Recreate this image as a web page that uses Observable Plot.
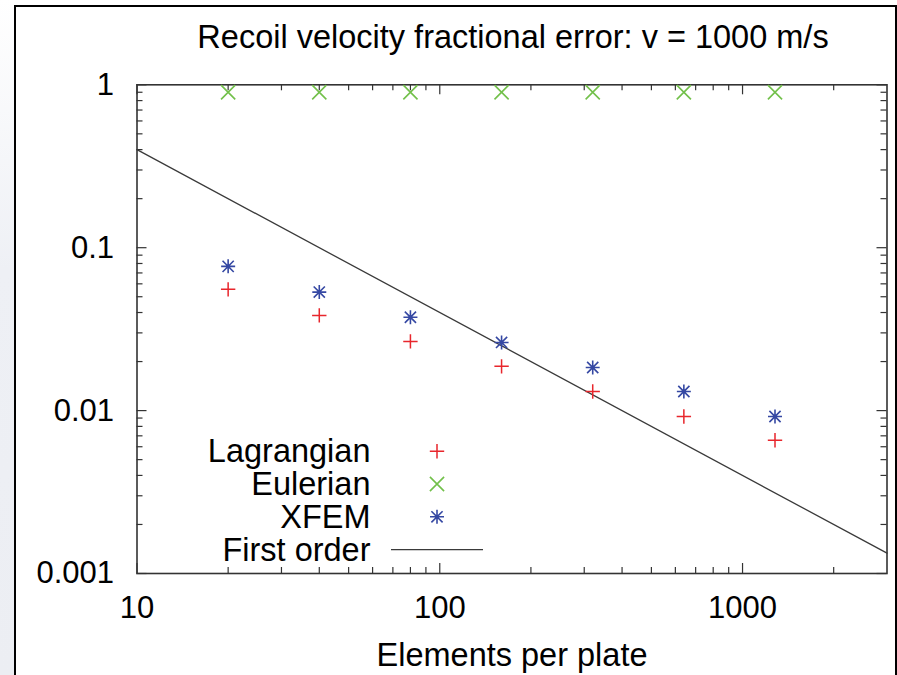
<!DOCTYPE html>
<html>
<head>
<meta charset="utf-8">
<script src="https://cdn.jsdelivr.net/npm/d3@7"></script>
<script src="https://cdn.jsdelivr.net/npm/@observablehq/plot@0.6"></script>
<style>
  html, body { margin: 0; padding: 0; background: #fff; }
  #page { position: relative; width: 897px; height: 675px; overflow: hidden; background: #fff; }
  #strip { position: absolute; left: 0; top: 0; width: 14px; height: 675px;
           background: linear-gradient(to bottom, #ffffff 0%, #eef0f5 40%, #eceef3 100%); }
  #border { position: absolute; left: 14px; top: 5px; width: 879px; height: 700px;
            border-left: 2.5px solid #000; border-top: 2px solid #000; border-right: 2px solid #000; }
  #chart { position: absolute; left: 0; top: 0; }
  #chart svg { font-family: "Liberation Sans", Arial, sans-serif; }
</style>
</head>
<body>
<div id="page">
  <div id="strip"></div>
  <div id="border"></div>
  <div id="chart"></div>
</div>
<script>
// ---- data ----
const elements = [20, 40, 80, 160, 320, 640, 1280];
const lagrangian = [0.0555, 0.0384, 0.0266, 0.0187, 0.0131, 0.0092, 0.00658];
const eulerian   = [0.90, 0.90, 0.90, 0.90, 0.90, 0.90, 0.90];
const xfem       = [0.0768, 0.0534, 0.0374, 0.0262, 0.0184, 0.0131, 0.0092];
const firstOrderX = [10, 3000];
const firstOrderY = [0.4, 0.001333];

const xTicks = [10, 100, 1000];
const xTickLabels = ["10", "100", "1000"];
const yTicks = [1, 0.1, 0.01, 0.001];
const yTickLabels = ["1", "0.1", "0.01", "0.001"];
const xMinor = [20, 30, 40, 50, 60, 70, 80, 90, 200, 300, 400, 500, 600, 700, 800, 900, 2000];
const yMinor = [];
[0.001, 0.01, 0.1].forEach(d => { for (let k = 2; k <= 9; k++) yMinor.push(+(d * k).toPrecision(3)); });

const legendLabels = ["Lagrangian", "Eulerian", "XFEM", "First order"];
const title = "Recoil velocity fractional error: v = 1000 m/s";
const xLabel = "Elements per plate";

// ---- styling ----
const red = "#e8262c", green = "#72c04a", blue = "#3548a3", lineColor = "#3a3a3a";
const W = 897, H = 675;
const mL = 136.5, mR = 10.5, mT = 84.3, mB = 102;
const plotH = H - mT - mB, plotW = W - mL - mR;
const FS = 32.5, TFS = 31;
const majorLen = 10, minorLen = 6;

const series = elements.map((x, i) => ({x, lag: lagrangian[i], eul: eulerian[i], xf: xfem[i]}));
const firstOrder = firstOrderX.map((x, i) => ({x, y: firstOrderY[i]}));

// gnuplot-style symbols
const lineSymbol = { draw(ctx) { ctx.moveTo(-46, 0); ctx.lineTo(46, 0); } };
const starSymbol = { draw(ctx) {
  const h = 7, d = 5.6;
  ctx.moveTo(-h, 0); ctx.lineTo(h, 0);
  ctx.moveTo(0, -h); ctx.lineTo(0, h);
  ctx.moveTo(-d, -d); ctx.lineTo(d, d);
  ctx.moveTo(-d, d); ctx.lineTo(d, -d);
} };

const legendMarks = [];
const legendBase = 461.7 - (H - mB);
const legendStep = 32.8;
legendLabels.forEach((lab, i) => {
  legendMarks.push(Plot.text([lab], {
    text: d => d, frameAnchor: "bottom-left", dx: 370 - mL, dy: legendBase + i * legendStep,
    textAnchor: "end", lineAnchor: "bottom", fontSize: FS, fill: "#000"
  }));
});
const legendSym = [
  {symbol: "plus", stroke: red, r: 4.7, sw: 1.5},
  {symbol: "times", stroke: green, r: 6.5, sw: 1.6},
  {symbol: starSymbol, stroke: blue, r: 4.5, sw: 1.6},
  {symbol: lineSymbol, stroke: lineColor, r: 4.5, sw: 1.3}
];
legendSym.forEach((s, i) => {
  legendMarks.push(Plot.dot([0], {
    frameAnchor: "bottom-left", dx: 436.5 - mL, dy: legendBase + i * legendStep - 11,
    symbol: s.symbol, stroke: s.stroke, r: s.r, strokeWidth: s.sw
  }));
});

const chart = Plot.plot({
  width: W, height: H,
  marginLeft: mL, marginRight: mR, marginTop: mT, marginBottom: mB,
  style: {background: "transparent", fontFamily: "'Liberation Sans', Arial, sans-serif", overflow: "visible"},
  x: {type: "log", domain: [10, 3000]},
  y: {type: "log", domain: [0.001, 1]},
  marks: [
    Plot.tickX(xMinor, {x: d => d, insetTop: plotH - minorLen, stroke: "#333", strokeWidth: 1.2}),
    Plot.tickX(xMinor, {x: d => d, insetBottom: plotH - minorLen, stroke: "#333", strokeWidth: 1.2}),
    Plot.tickX(xTicks, {x: d => d, insetTop: plotH - majorLen, stroke: "#333", strokeWidth: 1.2}),
    Plot.tickX(xTicks, {x: d => d, insetBottom: plotH - majorLen, stroke: "#333", strokeWidth: 1.2}),
    Plot.tickY(yMinor, {y: d => d, insetRight: plotW - minorLen, stroke: "#333", strokeWidth: 1.2}),
    Plot.tickY(yMinor, {y: d => d, insetLeft: plotW - minorLen, stroke: "#333", strokeWidth: 1.2}),
    Plot.tickY(yTicks, {y: d => d, insetRight: plotW - majorLen, stroke: "#333", strokeWidth: 1.2}),
    Plot.tickY(yTicks, {y: d => d, insetLeft: plotW - majorLen, stroke: "#333", strokeWidth: 1.2}),
    Plot.axisX(xTicks, {tickSize: 0, tickPadding: 22, fontSize: TFS, fill: "#000",
      tickFormat: d => xTickLabels[xTicks.indexOf(d)], label: null}),
    Plot.axisY(yTicks, {tickSize: 0, tickPadding: 23, fontSize: TFS, fill: "#000",
      tickFormat: d => yTickLabels[yTicks.indexOf(d)], label: null}),
    Plot.frame({stroke: "#333", strokeWidth: 1.6}),
    Plot.line(firstOrder, {x: "x", y: "y", stroke: lineColor, strokeWidth: 1.3}),
    Plot.dot(series, {x: "x", y: "eul", symbol: "times", stroke: green, r: 6.5, strokeWidth: 1.6}),
    Plot.dot(series, {x: "x", y: "xf", symbol: starSymbol, stroke: blue, r: 4.5, strokeWidth: 1.6}),
    Plot.dot(series, {x: "x", y: "lag", symbol: "plus", stroke: red, r: 4.7, strokeWidth: 1.5}),
    Plot.text([title], {text: d => d, frameAnchor: "top", dy: 47 - mT, dx: 1, lineAnchor: "bottom",
      fontSize: FS, fill: "#000"}),
    Plot.text([xLabel], {text: d => d, frameAnchor: "bottom", dy: 665 - (H - mB), lineAnchor: "bottom",
      fontSize: FS, fill: "#000"}),
    ...legendMarks
  ]
});
document.getElementById("chart").appendChild(chart);
</script>
</body>
</html>
